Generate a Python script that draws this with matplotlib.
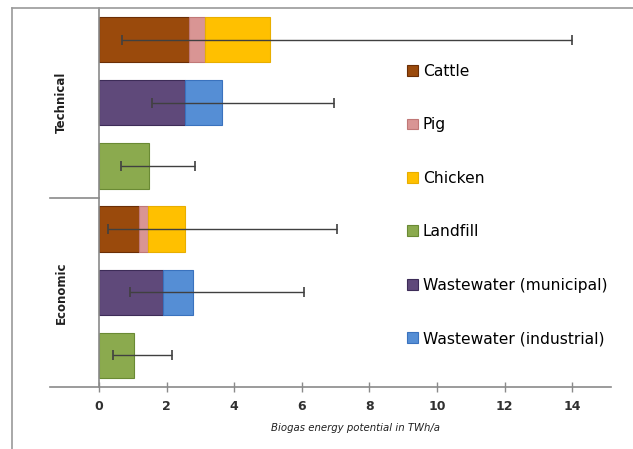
import matplotlib.pyplot as plt
from matplotlib.lines import Line2D

# rows from top to bottom
rows = ['Technical animals', 'Technical wastewater', 'Technical landfill',
        'Economic animals', 'Economic wastewater', 'Economic landfill']
groups = ['Technical', 'Economic']

sources = ['Cattle', 'Pig', 'Chicken', 'Landfill',
           'Wastewater (municipal)', 'Wastewater (industrial)']
colors = ['#9A4A0C', '#D99594', '#FFC000', '#8BAA4E', '#5F497A', '#558ED5']
edges = ['#6B2E05', '#C07877', '#E8AE00', '#6A8A34', '#3D2C58', '#3A72BE']

# stacked values per source (TWh/a), one per row
cattle = [2.65, 0, 0, 1.18, 0, 0]
pig = [0.49, 0, 0, 0.27, 0, 0]
chicken = [1.93, 0, 0, 1.08, 0, 0]
landfill = [0, 0, 1.48, 0, 0, 1.04]
ww_municipal = [0, 2.53, 0, 0, 1.89, 0]
ww_industrial = [0, 1.11, 0, 0, 0.90, 0]

# error range per row
err_low = [0.69, 1.56, 0.66, 0.28, 0.92, 0.42]
err_high = [14.0, 6.94, 2.85, 7.03, 6.07, 2.15]

series = [cattle, pig, chicken, landfill, ww_municipal, ww_industrial]

fig = plt.figure(figsize=(6.33, 4.49), dpi=100)
ax = fig.add_axes([50 / 633, 62 / 449, 561 / 633, 379 / 449])

y = list(range(len(rows)))
left = [0] * len(rows)
for name, vals, c, ec in zip(sources, series, colors, edges):
    idx = [i for i, v in enumerate(vals) if v > 0]
    ax.barh([y[i] for i in idx], [vals[i] for i in idx],
            left=[left[i] for i in idx], height=0.72, color=c,
            edgecolor=ec, linewidth=0.8, label=name)
    left = [l + v for l, v in zip(left, vals)]

mid = [(lo + hi) / 2 for lo, hi in zip(err_low, err_high)]
half = [(hi - lo) / 2 for lo, hi in zip(err_low, err_high)]
ax.errorbar(mid, y, xerr=half, fmt='none', ecolor='#404040',
            elinewidth=1.0, capsize=3.5, capthick=1.2)

ax.set_xlim(-1.45, 15.15)
ax.set_ylim(5.5, -0.5)
ax.set_xticks(range(0, 16, 2))
ax.set_yticks([])

for side in ['top', 'right']:
    ax.spines[side].set_visible(False)
ax.spines['left'].set_position(('data', 0))
for side in ['left', 'bottom']:
    ax.spines[side].set_color('#8a8a8a')
    ax.spines[side].set_linewidth(1.2)
ax.tick_params(axis='x', direction='inout', length=7, width=1,
               color='#8a8a8a', labelsize=9, labelcolor='#303030', pad=6)
for lab in ax.get_xticklabels():
    lab.set_fontweight('bold')

# separator between the two groups
ax.plot([-1.45, 0], [2.5, 2.5], color='#8a8a8a', lw=1.2, clip_on=False)
ax.text(-1.1, 1, groups[0], rotation=90, ha='center', va='center',
        fontsize=8.5, fontweight='bold', color='#202020')
ax.text(-1.1, 4, groups[1], rotation=90, ha='center', va='center',
        fontsize=8.5, fontweight='bold', color='#202020')

ax.set_xlabel('Biogas energy potential in TWh/a', fontsize=7.3,
              fontstyle='italic', color='#202020')
ax.xaxis.set_label_coords(0.544, -0.095)

handles, labels = ax.get_legend_handles_labels()
ax.legend(handles, labels, loc='upper left', bbox_to_anchor=(0.612, 0.889),
          frameon=False, fontsize=11.2, labelspacing=2.47, handlelength=0.7,
          handleheight=0.7, handletextpad=0.3)

# outer frame lines
fig.add_artist(Line2D([12 / 633, 12 / 633], [0, 441 / 449],
                      color='#9a9a9a', lw=1.2))
fig.add_artist(Line2D([12 / 633, 1], [441 / 449, 441 / 449],
                      color='#9a9a9a', lw=1.2))

fig.savefig('out.png', dpi=100)
